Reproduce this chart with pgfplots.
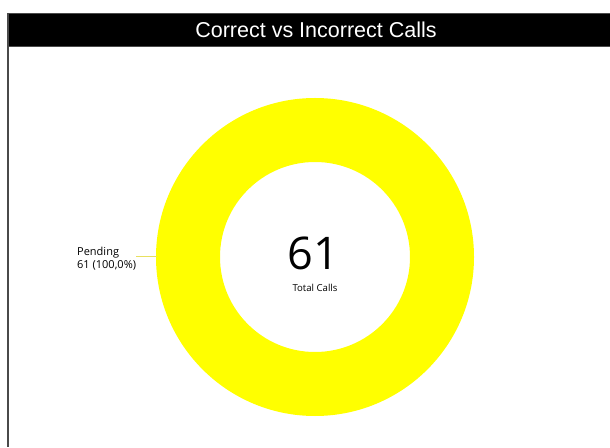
\documentclass[border=0pt]{standalone}
\usepackage{pgfplots}
\pgfplotsset{compat=1.18}
\usepackage{pgfplotstable}
\usepackage{fontspec}
\setmainfont{Open Sans}
\newfontfamily\titlefont{Liberation Sans}
\definecolor{pendingyellow}{HTML}{FFFF00}
\definecolor{leaderyellow}{HTML}{E8E060}
\definecolor{framegray}{HTML}{4A4A4A}

\pgfplotstableread{
label value
Pending 61
}\calls

\begin{document}
\begin{tikzpicture}
\pgfplotstablegetelem{0}{value}\of\calls
\let\pendval\pgfplotsretval
\pgfmathsetmacro\totalval{\pendval}
\pgfmathsetmacro\frac{\pendval/\totalval}
\pgfmathsetmacro\sweep{360*\frac}
\begin{axis}[
  x=1pt, y=1pt,
  xmin=0, xmax=610, ymin=0, ymax=447,
  at={(0pt,0pt)}, anchor=origin,
  hide axis, clip=false,
]
% title bar
\fill[black] (axis cs:7,433) rectangle (axis cs:610,400);
\draw[framegray, line width=1pt] (axis cs:7,433) -- (axis cs:610,433);
\draw[framegray, line width=1pt] (axis cs:7,400) -- (axis cs:610,400);
\draw[framegray, line width=1.5pt] (axis cs:7.75,433) -- (axis cs:7.75,0);
\node[anchor=base, text=white, font=\titlefont\fontsize{21.5}{25}\selectfont]
  at (axis cs:316,409) {Correct vs Incorrect Calls};
% donut slice (Pending)
\fill[pendingyellow] (axis cs:315,190) ++(90:159pt)
   arc[start angle=90, delta angle=-\sweep, radius=159pt]
   -- ++(-90:64pt)
   arc[start angle=90-\sweep, delta angle=\sweep, radius=95pt] -- cycle;
% leader line
\draw[leaderyellow, line width=0.8pt] (axis cs:136,191) -- (axis cs:157,191);
% label
\node[anchor=base west, font=\fontsize{11}{13}\selectfont, inner sep=0pt]
  at (axis cs:77,191.5) {Pending};
\node[anchor=base west, font=\fontsize{11}{13}\selectfont, inner sep=0pt]
  at (axis cs:77,178) {\pendval\ (100,0\%)};
% center text
\node[anchor=base, font=\fontsize{45}{54}\selectfont, inner sep=0pt]
  at (axis cs:313.5,177.5) {\pendval};
\node[anchor=base, font=\fontsize{9.6}{11}\selectfont, inner sep=0pt]
  at (axis cs:315,155) {Total Calls};
\end{axis}
\pgfresetboundingbox
\path (0,0) rectangle (610pt,447pt);
\end{tikzpicture}
\end{document}
